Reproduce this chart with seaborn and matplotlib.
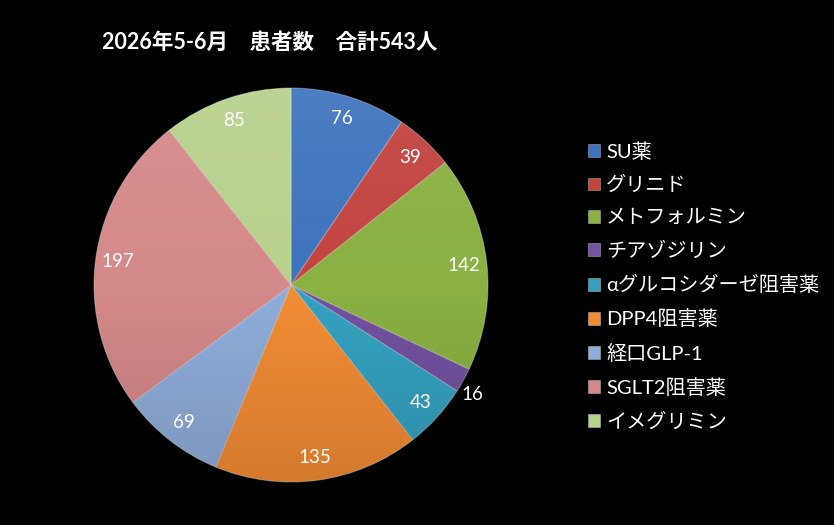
import matplotlib
matplotlib.use("Agg")
import matplotlib.pyplot as plt
import matplotlib.patches as mpatches
import numpy as np
import seaborn as sns

categories = ["SU薬", "グリニド", "メトフォルミン", "チアゾジリン", "αグルコシダーゼ阻害薬",
              "DPP4阻害薬", "経口GLP-1", "SGLT2阻害薬", "イメグリミン"]
values = [76, 39, 142, 16, 43, 135, 69, 197, 85]
colors = ["#3E74BD", "#C2443F", "#8AB142", "#7352A0", "#35A2C0",
          "#F38D35", "#90ADDA", "#D48A89", "#B8D18C"]
title = "2026年5-6月　患者数　合計543人"

sns.set_theme(style="white")
plt.rcParams['font.family'] = ['Lato', 'Noto Sans CJK JP', 'DejaVu Sans']

W, H = 834, 525
fig = plt.figure(figsize=(W / 100, H / 100), dpi=100, facecolor="black")

cx, cy, r = 291, 285, 197
ax = fig.add_axes([(cx - r) / W, (H - cy - r) / H, 2 * r / W, 2 * r / H])
ax.set_facecolor("black")

wedges, texts = ax.pie(values, colors=colors, startangle=90, counterclock=False,
                       radius=1.0, labels=[str(v) for v in values], labeldistance=0.885,
                       wedgeprops=dict(edgecolor=(1, 1, 1, 0.3), linewidth=0.8),
                       textprops=dict(color="white", fontsize=13.5, ha="center", va="center",
                                      zorder=5))
for v, t in zip(values, texts):
    if v < 20:
        x, y = t.get_position()
        t.set_position((x * 1.19, y * 1.30))

# soft top-to-bottom shading over the pie (light at top, darker at bottom)
g = np.linspace(1, 0, 256)[:, None] * np.ones((1, 2))
shade = np.zeros((256, 2, 4))
shade[..., :3] = (g > 0.5)[..., None] * 1.0
shade[..., 3] = np.abs(g - 0.5) * np.where(g > 0.5, 0.14, 0.26)
im = ax.imshow(shade, extent=(-1, 1, -1, 1), origin="upper", zorder=3,
               interpolation="bilinear", aspect="auto")
im.set_clip_path(mpatches.Circle((0, 0), 1.0, transform=ax.transData))

ax.set_xlim(-1, 1)
ax.set_ylim(-1, 1)
ax.set_aspect("equal")
ax.axis("off")

fig.text(270 / W, 1 - 42 / H, title, color="white", fontsize=15.5, fontweight="bold",
         ha="center", va="center")

leg = fig.legend(wedges, categories, loc="upper left", bbox_to_anchor=(578 / W, 1 - 132 / H),
                 frameon=False, fontsize=14.5, labelcolor="white", handlelength=0.6,
                 handleheight=0.6, handletextpad=0.3, labelspacing=0.755, borderpad=0)
for h in leg.legend_handles:
    h.set_edgecolor((1, 1, 1, 0.3))

fig.savefig("out.png", dpi=100, facecolor="black")
